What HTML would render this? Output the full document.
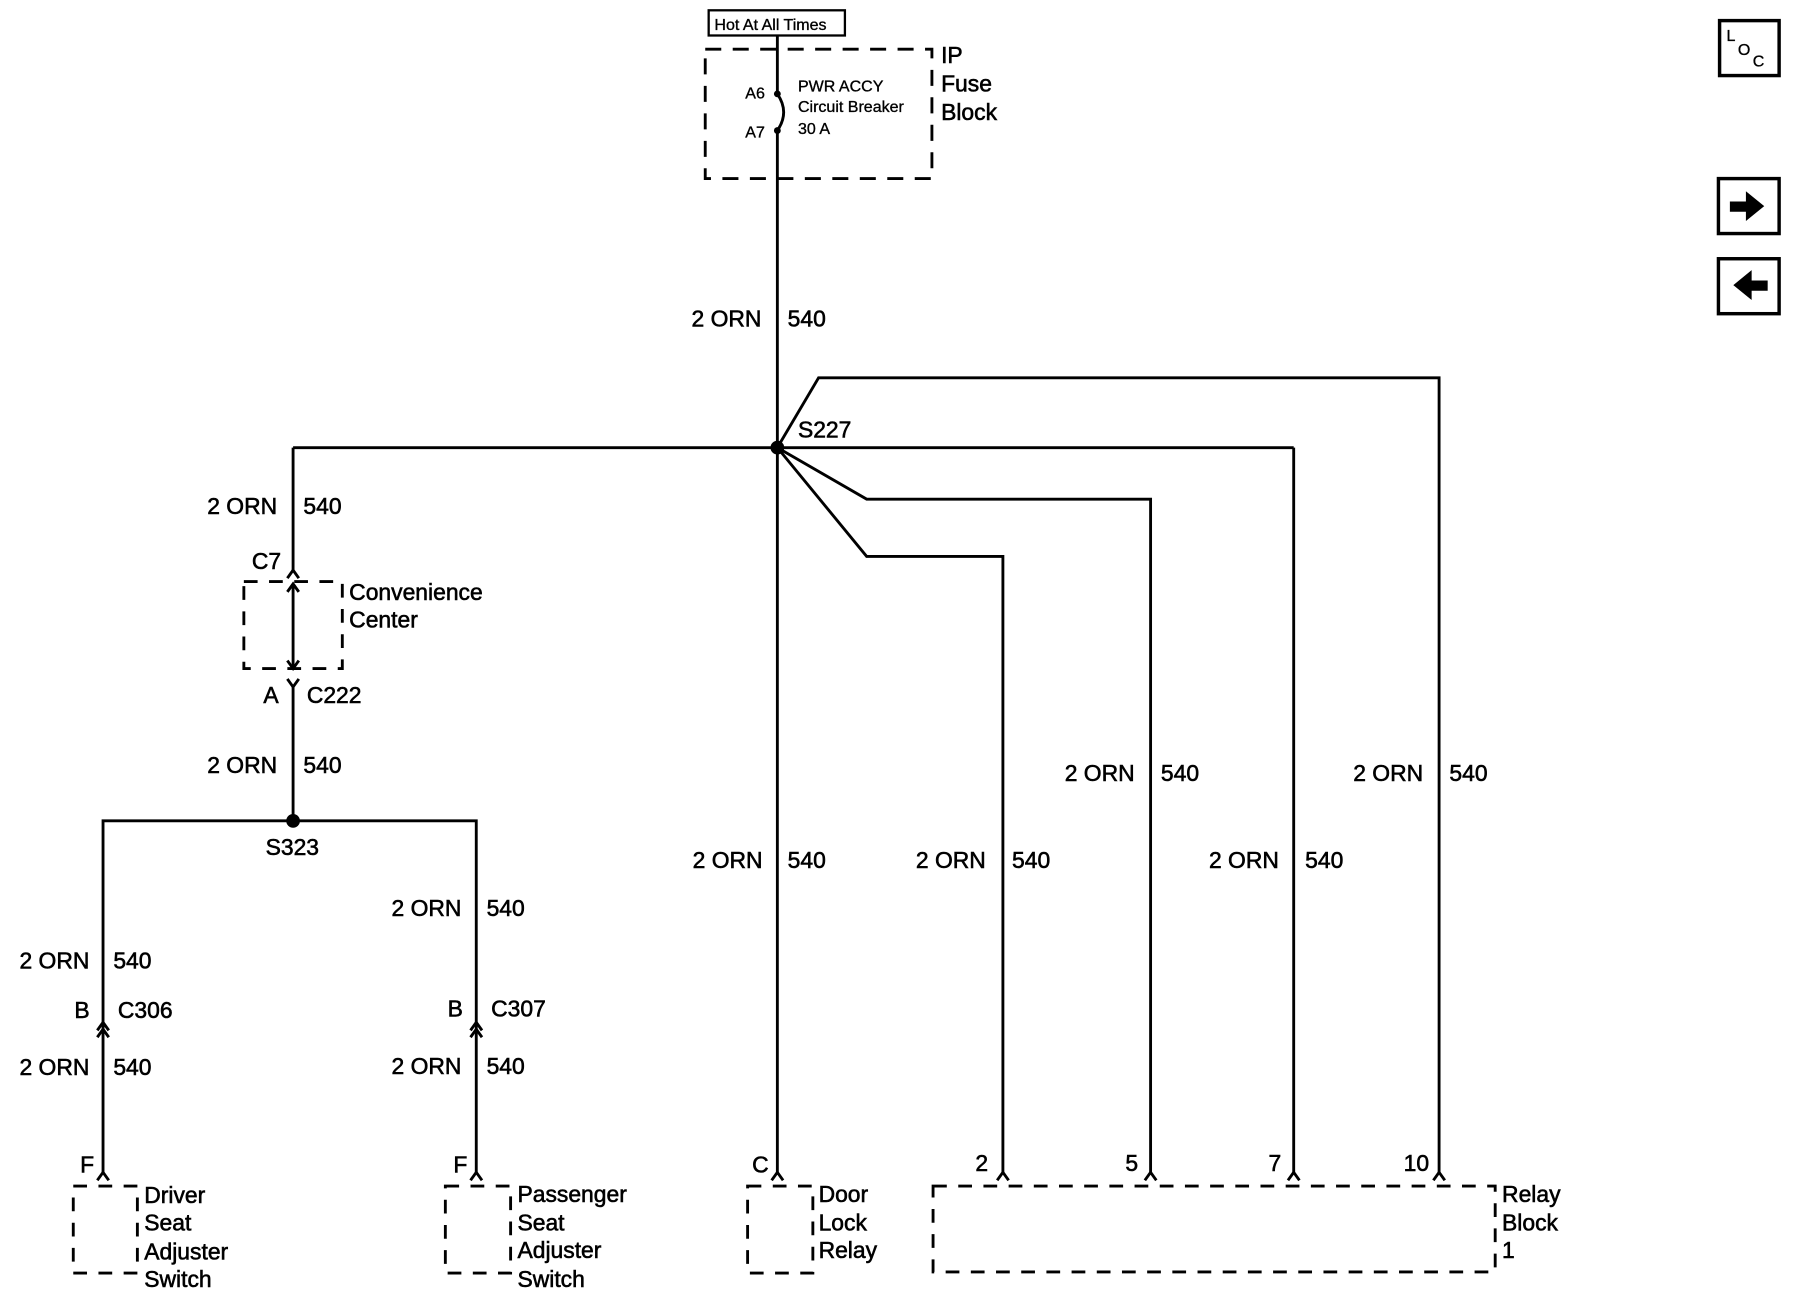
<!DOCTYPE html>
<html><head><meta charset="utf-8"><style>
html,body{margin:0;padding:0;background:#fff;width:1794px;height:1312px;overflow:hidden}
svg{display:block}
text{font-family:"Liberation Sans",sans-serif;fill:#000;font-size:20px;stroke:#000;stroke-width:0.5}
.s{font-size:14px;stroke-width:0.3}
</style></head><body>
<svg width="1794" height="1312" viewBox="0 0 1567 1146" preserveAspectRatio="none" xmlns="http://www.w3.org/2000/svg">
<g fill="none" stroke="#000" stroke-width="2.5">
<rect x="619" y="9" width="119" height="22" stroke-width="2"/>
<rect x="616" y="43" width="198" height="113" stroke-dasharray="14,10"/>
<line x1="679" y1="31" x2="679" y2="82"/>
<path d="M679 82 Q690 98 679 114"/>
<line x1="679" y1="114" x2="679" y2="1025"/>
<line x1="256" y1="391" x2="1130" y2="391"/>
<line x1="1130" y1="391" x2="1130" y2="1025"/>
<polyline points="679,391 715,330 1257,330 1257,1025"/>
<polyline points="679,391 757,436 1005,436 1005,1025"/>
<polyline points="679,391 757,486 876,486 876,1025"/>
<line x1="256" y1="391" x2="256" y2="500"/>
<rect x="213" y="508" width="86" height="76" stroke-dasharray="12,10"/>
<line x1="256" y1="510" x2="256" y2="582"/>
<polyline points="251,505 256,498 261,505"/>
<polyline points="251,517 256,510 261,517"/>
<polyline points="251,577 256,584 261,577"/>
<polyline points="251,593 256,600 261,593"/>
<line x1="256" y1="600" x2="256" y2="717"/>
<polyline points="90,1025 90,717 416,717 416,1025"/>
<polyline points="85,900 90,893 95,900"/><polyline points="85,906 90,899 95,906"/>
<polyline points="411,900 416,893 421,900"/><polyline points="411,906 416,899 421,906"/>
<polyline points="85,1031 90,1024 95,1031"/>
<polyline points="411,1031 416,1024 421,1031"/>
<polyline points="674,1031 679,1024 684,1031"/>
<polyline points="871,1031 876,1024 881,1031"/>
<polyline points="1000,1031 1005,1024 1010,1031"/>
<polyline points="1125,1031 1130,1024 1135,1031"/>
<polyline points="1252,1031 1257,1024 1262,1031"/>
<rect x="64" y="1036" width="56" height="76" stroke-dasharray="12,10"/>
<rect x="389" y="1036" width="57" height="76" stroke-dasharray="12,10"/>
<rect x="653" y="1036" width="57" height="76" stroke-dasharray="12,10"/>
<rect x="815" y="1036" width="491" height="75" stroke-dasharray="12,10"/>
<rect x="1502" y="18" width="52" height="48" stroke-width="3"/>
<rect x="1501" y="156" width="53" height="48" stroke-width="3"/>
<rect x="1501" y="226" width="53" height="48" stroke-width="3"/>
</g>
<g fill="#000">
<circle cx="679" cy="82" r="3"/><circle cx="679" cy="114" r="3"/>
<circle cx="679" cy="391" r="6"/><circle cx="256" cy="717" r="6"/>
<polygon points="1511,176 1525,176 1525,167 1541,180 1525,193 1525,185 1511,185"/>
<polygon points="1544,245 1530,245 1530,236 1514,249 1530,262 1530,254 1544,254"/>
</g>
<text x="624" y="26" class="s">Hot At All Times</text>
<text x="651" y="86" class="s">A6</text><text x="651" y="120" class="s">A7</text>
<text x="697" y="80" class="s">PWR ACCY</text>
<text x="697" y="98" class="s">Circuit Breaker</text>
<text x="697" y="117" class="s">30 A</text>
<text x="822" y="55">IP</text><text x="822" y="80">Fuse</text><text x="822" y="105">Block</text>
<text x="1508" y="36" class="s">L</text><text x="1518" y="48" class="s">O</text><text x="1531" y="58" class="s">C</text>
<text x="604" y="285">2 ORN</text><text x="688" y="285">540</text>
<text x="697" y="382">S227</text>
<text x="181" y="449">2 ORN</text><text x="265" y="449">540</text>
<text x="220" y="497">C7</text>
<text x="305" y="524">Convenience</text><text x="305" y="548">Center</text>
<text x="230" y="614">A</text><text x="268" y="614">C222</text>
<text x="181" y="675">2 ORN</text><text x="265" y="675">540</text>
<text x="232" y="747">S323</text>
<text x="342" y="800">2 ORN</text><text x="425" y="800">540</text>
<text x="17" y="846">2 ORN</text><text x="99" y="846">540</text>
<text x="65" y="889">B</text><text x="103" y="889">C306</text>
<text x="391" y="888">B</text><text x="429" y="888">C307</text>
<text x="17" y="939">2 ORN</text><text x="99" y="939">540</text>
<text x="342" y="938">2 ORN</text><text x="425" y="938">540</text>
<text x="930" y="682">2 ORN</text><text x="1014" y="682">540</text>
<text x="1182" y="682">2 ORN</text><text x="1266" y="682">540</text>
<text x="605" y="758">2 ORN</text><text x="688" y="758">540</text>
<text x="800" y="758">2 ORN</text><text x="884" y="758">540</text>
<text x="1056" y="758">2 ORN</text><text x="1140" y="758">540</text>
<text x="70" y="1024">F</text><text x="396" y="1024">F</text><text x="657" y="1024">C</text>
<text x="852" y="1023">2</text><text x="983" y="1023">5</text><text x="1108" y="1023">7</text><text x="1226" y="1023">10</text>
<text x="126" y="1051">Driver</text><text x="126" y="1075">Seat</text><text x="126" y="1100">Adjuster</text><text x="126" y="1124">Switch</text>
<text x="452" y="1050">Passenger</text><text x="452" y="1075">Seat</text><text x="452" y="1099">Adjuster</text><text x="452" y="1124">Switch</text>
<text x="715" y="1050">Door</text><text x="715" y="1075">Lock</text><text x="715" y="1099">Relay</text>
<text x="1312" y="1050">Relay</text><text x="1312" y="1075">Block</text><text x="1312" y="1099">1</text>
</svg>
</body></html>
